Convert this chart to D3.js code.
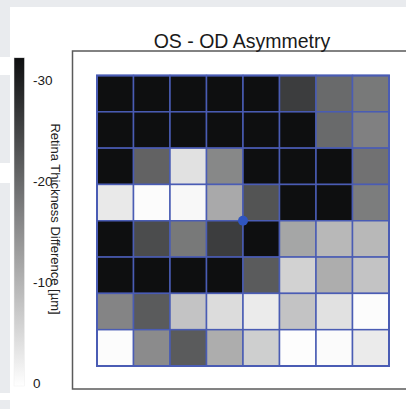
<!DOCTYPE html>
<html>
<head>
<meta charset="utf-8">
<script src="https://cdn.jsdelivr.net/npm/d3@7"></script>
<style>
  html, body { margin: 0; padding: 0; background: #ffffff; overflow: hidden; }
  svg { display: block; font-family: "Liberation Sans", Arial, sans-serif; }
</style>
</head>
<body>
<div id="rootDiv"></div>
<script>
// grid positions (columns left to right, rows top to bottom)
const cols = [0, 1, 2, 3, 4, 5, 6, 7]
const rows = [0, 1, 2, 3, 4, 5, 6, 7]

// OS - OD thickness difference [µm], one array per row
const row0 = [-34, -34, -34, -34, -34, -26, -20, -18]
const row1 = [-34, -34, -34, -34, -34, -33, -20, -17]
const row2 = [-34, -21, -4, -16, -34, -34, -34, -19]
const row3 = [-3, -0.4, -0.9, -11.5, -23, -34, -34, -17.5]
const row4 = [-34, -24, -18, -26, -33, -12, -9.5, -9.5]
const row5 = [-34, -34, -34, -34, -22, -6, -11, -8]
const row6 = [-16.5, -22, -8, -4.7, -2.7, -8, -4, -0.4]
const row7 = [-0.4, -15.5, -22, -11, -6.5, -0.3, -0.6, -2.7]
const values = [row0, row1, row2, row3, row4, row5, row6, row7]

const colorTicks = [0, -10, -20, -30]
const colorDomain = [0, -32.2]
const title = "OS - OD Asymmetry"
const colorLabel = "Retina Thickness Difference [µm]"

const width = 406
const height = 409

const svg = d3.select(document.getElementById("rootDiv"))
    .append("svg")
    .attr("width", width)
    .attr("height", height)

// background: grey margin on top and left, white panel
svg.append("rect").attr("x", 0).attr("y", 0).attr("width", width).attr("height", 7).attr("fill", "#e9ebee")
const strips = [[7, 57], [75, 163], [183, 393], [400, 409]]
for (const s of strips) {
    svg.append("rect").attr("x", 0).attr("y", s[0]).attr("width", 10).attr("height", s[1] - s[0]).attr("fill", "#e9ebee")
}

const color = d3.scaleLinear()
    .domain(colorDomain)
    .range(["#ffffff", "#0e0f10"])
    .clamp(true)

// plot frame
svg.append("rect")
    .attr("x", 72.5)
    .attr("y", 51)
    .attr("width", 345)
    .attr("height", 338)
    .attr("fill", "none")
    .attr("stroke", "#5a5a5a")
    .attr("stroke-width", 1.5)

svg.append("text")
    .attr("x", 242)
    .attr("y", 48)
    .attr("text-anchor", "middle")
    .attr("font-size", 19.5)
    .attr("fill", "#1a1a1a")
    .text(title)

const x = d3.scaleBand()
    .domain(cols)
    .range([97, 389])

const y = d3.scaleBand()
    .domain(rows)
    .range([75.5, 366])

const cells = []
rows.forEach(r => cols.forEach(c => cells.push({ r, c, v: values[r][c] })))

svg.append("g")
    .selectAll("rect")
    .data(cells)
    .enter()
    .append("rect")
    .attr("x", d => x(d.c))
    .attr("y", d => y(d.r))
    .attr("width", x.bandwidth())
    .attr("height", y.bandwidth())
    .attr("fill", d => color(d.v))
    .attr("stroke", "#4a5cb4")
    .attr("stroke-width", 1.5)

svg.append("rect")
    .attr("x", 97)
    .attr("y", 75.5)
    .attr("width", 292)
    .attr("height", 290.5)
    .attr("fill", "none")
    .attr("stroke", "#4a5cb4")
    .attr("stroke-width", 2)

// centre marker
svg.append("circle")
    .attr("cx", (x.range()[0] + x.range()[1]) / 2)
    .attr("cy", (y.range()[0] + y.range()[1]) / 2)
    .attr("r", 5)
    .attr("fill", "#2f55c0")

// colour bar
const cy = d3.scaleLinear()
    .domain([0, -30])
    .range([383, 80])

const defs = svg.append("defs")
const grad = defs.append("linearGradient")
    .attr("id", "cbar")
    .attr("x1", 0).attr("y1", 1).attr("x2", 0).attr("y2", 0)
d3.range(0, 1.01, 0.1).forEach(t => {
    grad.append("stop")
        .attr("offset", t)
        .attr("stop-color", color(colorDomain[0] + t * (colorDomain[1] - colorDomain[0])))
})

const barTop = cy(colorDomain[1])
const barBottom = cy(colorDomain[0]) + 3
svg.append("rect")
    .attr("x", 14)
    .attr("y", barTop)
    .attr("width", 10.5)
    .attr("height", barBottom - barTop)
    .attr("fill", "url(#cbar)")
    .attr("stroke", "#eeeeee")
    .attr("stroke-width", 0.5)

const cAxis = svg.append("g")
    .attr("transform", "translate(24,0)")
    .call(d3.axisRight(cy).tickValues(colorTicks).tickSize(0).tickPadding(9).tickFormat(d => d))
cAxis.select(".domain").remove()
cAxis.selectAll("text")
    .attr("font-size", 13.5)
    .attr("font-family", "Liberation Sans, Arial, sans-serif")
    .attr("fill", "#1a1a1a")

svg.append("text")
    .attr("transform", "translate(55,219) rotate(90)")
    .attr("text-anchor", "middle")
    .attr("dominant-baseline", "central")
    .attr("font-size", 13)
    .attr("fill", "#222")
    .text(colorLabel)
</script>
</body>
</html>
